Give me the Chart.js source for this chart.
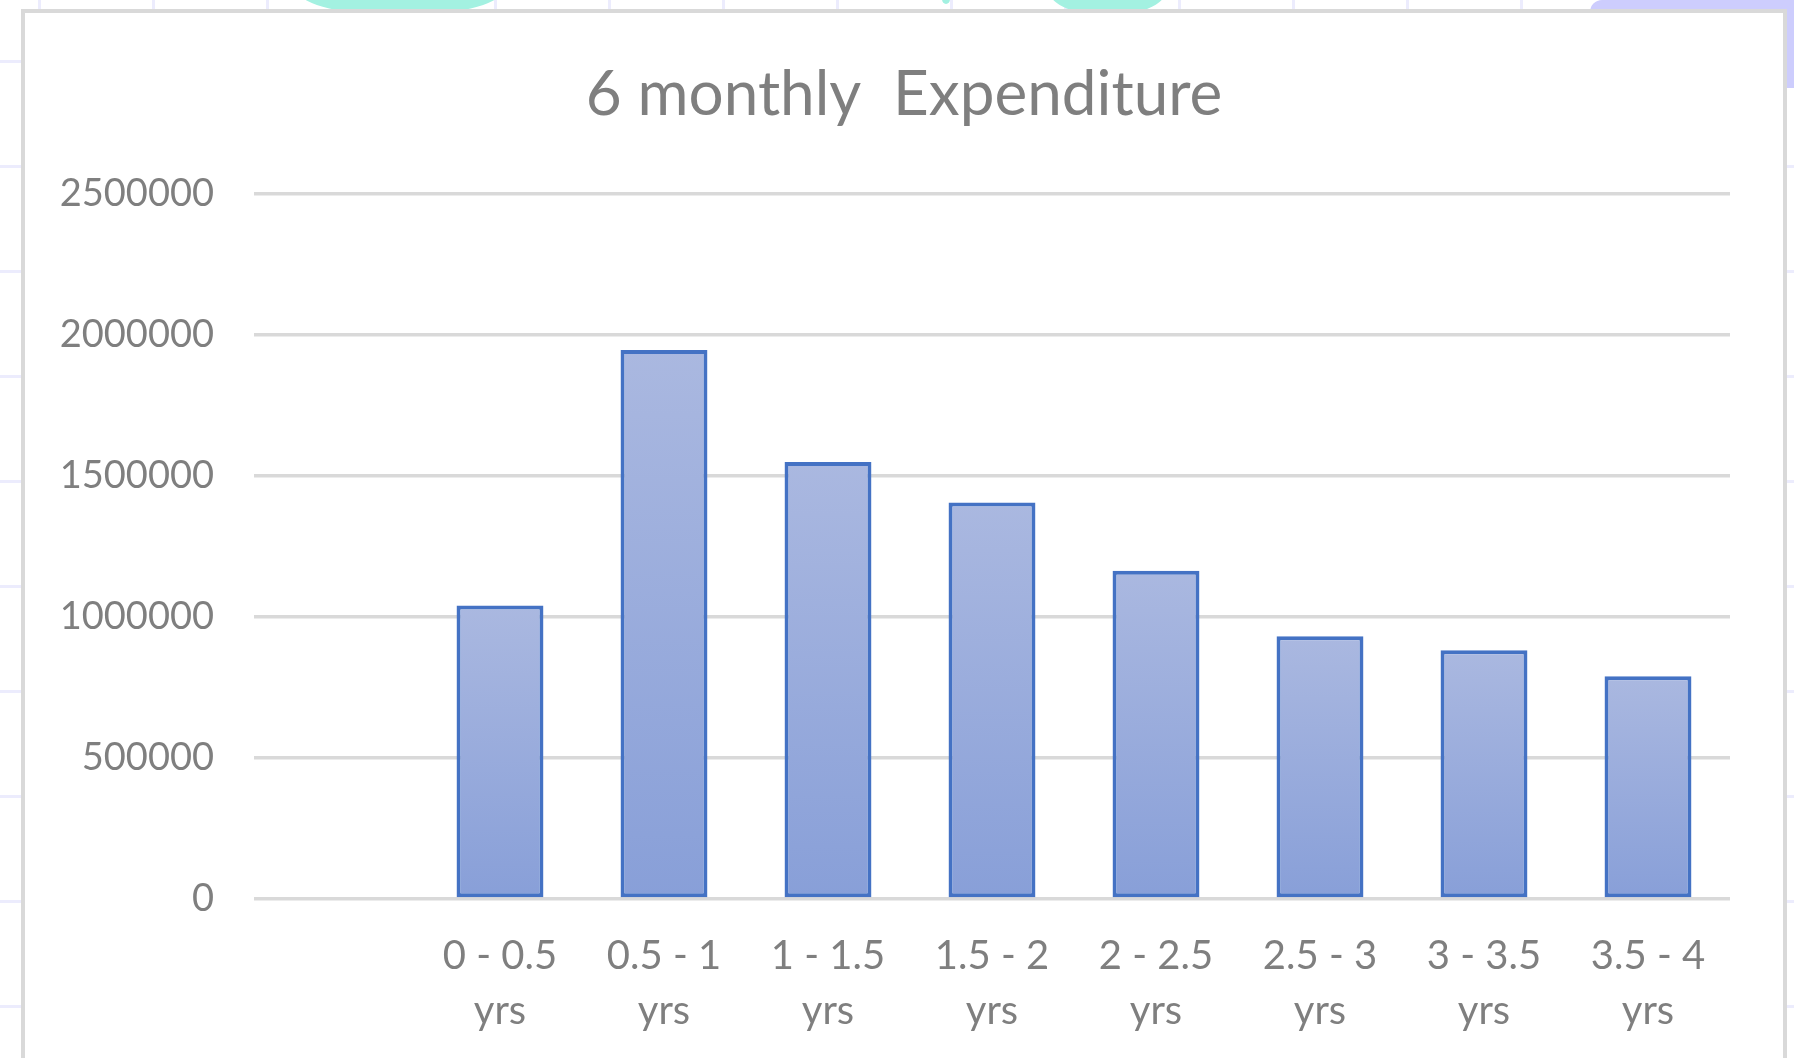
<!DOCTYPE html>
<html>
<head>
<meta charset="utf-8">
<script src="https://cdn.jsdelivr.net/npm/chart.js@4/dist/chart.umd.min.js"></script>
<style>
  html, body { margin: 0; padding: 0; }
  body {
    width: 1794px; height: 1058px; overflow: hidden; position: relative;
    background-color: #fff;
    background-image:
      repeating-linear-gradient(90deg, transparent 0 38px, #ececfd 38px 41px, transparent 41px 114px),
      repeating-linear-gradient(0deg, transparent 0 50px, #ececfd 50px 53px, transparent 53px 105px);
  }
  .blob { position: absolute; background: #a3f1e1; border-radius: 50%; }
  .violet { position: absolute; background: #cdcdfd; }
  #box {
    position: absolute; left: 21px; top: 9px; right: 7px; bottom: -20px;
    border: 4px solid #d9d9d9; background: #fff; box-sizing: border-box;
  }
  #c { position: absolute; left: 0; top: 0; }
</style>
</head>
<body>
<div class="blob" style="left:300px;top:-30px;width:200px;height:45px;"></div>
<div class="blob" style="left:1050px;top:-30px;width:115px;height:45px;"></div>
<div class="blob" style="left:942px;top:-6px;width:8px;height:10px;"></div>
<div class="violet" style="left:1590px;top:0;width:204px;height:12px;border-radius:30px 0 0 0;"></div>
<div class="violet" style="left:1783px;top:0;width:11px;height:88px;"></div>
<div id="box"></div>
<canvas id="c" width="1794" height="1058"></canvas>
<script>
const categories = [
  '',
  ['0 - 0.5', 'yrs'],
  ['0.5 - 1', 'yrs'],
  ['1 - 1.5', 'yrs'],
  ['1.5 - 2', 'yrs'],
  ['2 - 2.5', 'yrs'],
  ['2.5 - 3', 'yrs'],
  ['3 - 3.5', 'yrs'],
  ['3.5 - 4', 'yrs']
];
const expenditure = [null, 1040000, 1945000, 1548000, 1405000, 1163000, 931000, 881000, 789000];
const yTicks = [0, 500000, 1000000, 1500000, 2000000, 2500000];

const FONT = "Lato, 'Open Sans', sans-serif";

// each bar gets its own light-to-dark gradient, top to bottom
function barFill(ctx) {
  const chart = ctx.chart;
  const v = ctx.raw;
  const y = chart.scales.y;
  if (!y || v == null) return '#98aadb';
  const top = y.getPixelForValue(v);
  const bottom = y.getPixelForValue(0);
  const g = chart.ctx.createLinearGradient(0, top, 0, bottom);
  g.addColorStop(0, '#aab8e0');
  g.addColorStop(1, '#889fd8');
  return g;
}

// the y labels are clipped to the scale box; widen it to the left so
// the long numbers fit without moving the title off centre
const widenY = {
  id: 'widenY',
  afterLayout(chart) { chart.scales.y.left -= 45; }
};

new Chart(document.getElementById('c'), {
  type: 'bar',
  data: {
    labels: categories,
    datasets: [{
      data: expenditure,
      backgroundColor: barFill,
      borderColor: '#4472c4',
      borderWidth: 4,
      borderSkipped: false,
      barPercentage: 0.53,
      categoryPercentage: 1.0
    }]
  },
  plugins: [widenY],
  options: {
    responsive: false,
    animation: false,
    layout: { padding: { left: 78, right: 64, top: 0, bottom: 0 } },
    plugins: {
      legend: { display: false },
      tooltip: { enabled: false },
      title: {
        display: true,
        text: '6 monthly  Expenditure',
        color: '#7f7f7f',
        font: { family: FONT, size: 62, weight: 'normal' },
        padding: { top: 58, bottom: 61 }
      }
    },
    scales: {
      x: {
        grid: { display: false, drawTicks: false },
        border: { display: false },
        ticks: {
          color: '#7f7f7f',
          font: { family: FONT, size: 40, lineHeight: 1.38 },
          padding: 29,
          maxRotation: 0,
          autoSkip: false
        },
        afterFit: s => { s.height = 159; }
      },
      y: {
        min: 0,
        max: 2500000,
        afterBuildTicks: s => { s.ticks = yTicks.map(v => ({ value: v })); },
        grid: { color: '#d9d9d9', lineWidth: 3.5, drawTicks: false },
        border: { display: false },
        ticks: {
          color: '#7f7f7f',
          font: { family: FONT, size: 38 },
          padding: 40,
          callback: v => String(v)
        },
        afterFit: s => { s.width = 176; }
      }
    }
  }
});
</script>
</body>
</html>
